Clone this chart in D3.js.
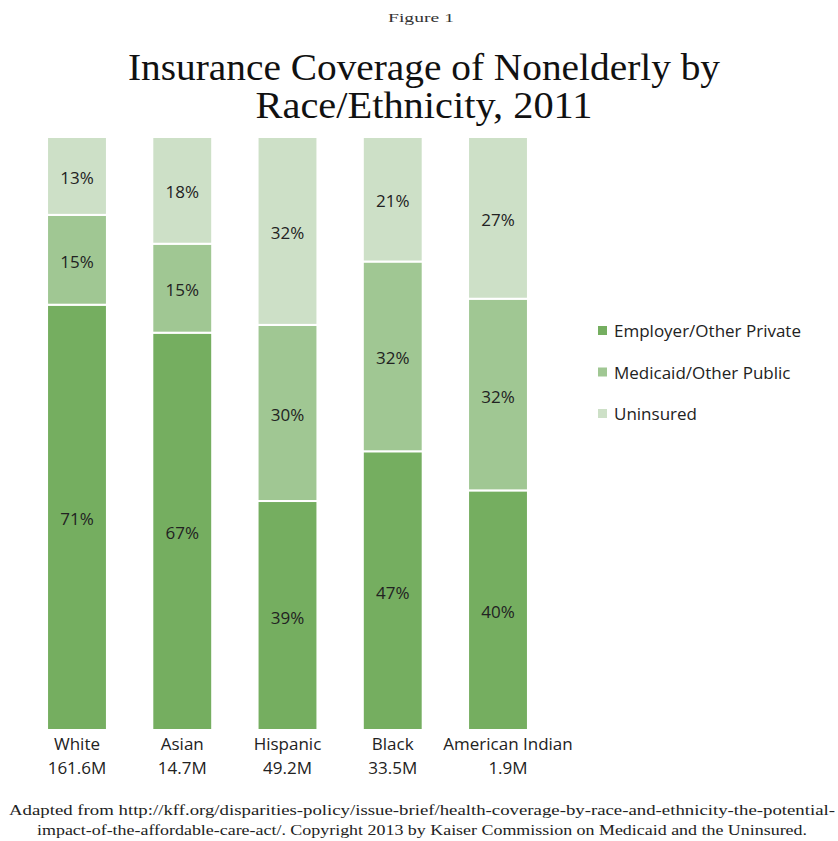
<!DOCTYPE html>
<html>
<head>
<meta charset="utf-8">
<script src="https://cdn.jsdelivr.net/npm/d3@7"></script>
<style>
  body { margin: 0; background: #fff; }
</style>
</head>
<body>
<div id="container"></div>
<script>
const width = 838,
  height = 841;

// data
const groups = ["White", "Asian", "Hispanic", "Black", "American Indian"];
const populations = ["161.6M", "14.7M", "49.2M", "33.5M", "1.9M"];
const keys = ["Employer/Other Private", "Medicaid/Other Public", "Uninsured"];
const privateShare = [71, 67, 39, 47, 40];
const publicShare = [15, 15, 30, 32, 32];
const uninsuredShare = [13, 18, 32, 21, 27];
const colors = ["#75ae60", "#a0c793", "#cde0c7"];

const footer = [
  "Adapted from http://kff.org/disparities-policy/issue-brief/health-coverage-by-race-and-ethnicity-the-potential-",
  "impact-of-the-affordable-care-act/. Copyright 2013 by Kaiser Commission on Medicaid and the Uninsured."
];

const rows = groups.map((g, i) => ({
  group: g,
  pop: populations[i],
  [keys[0]]: privateShare[i],
  [keys[1]]: publicShare[i],
  [keys[2]]: uninsuredShare[i]
}));

// percent stacked (values don't always add to exactly 100)
const series = d3.stack().keys(keys).offset(d3.stackOffsetExpand)(rows);

const xScale = d3.scaleBand()
  .domain(groups)
  .range([26, 549])
  .paddingInner(0.431)
  .paddingOuter(0.2);

const yScale = d3.scaleLinear()
  .domain([0, 1])
  .range([730, 137]);

const colorScale = d3.scaleOrdinal()
  .domain(keys)
  .range(colors);

const svg = d3.select("#container")
  .append("svg")
  .attr("width", width)
  .attr("height", height);

const serif = "'Liberation Serif', 'DejaVu Serif', serif";
const sans = "'Open Sans', 'Noto Sans', sans-serif";

// titles
svg.append("text")
  .attr("x", 421).attr("y", 22)
  .attr("text-anchor", "middle")
  .attr("font-family", serif)
  .attr("font-size", 13)
  .attr("fill", "#333")
  .attr("textLength", 66)
  .attr("lengthAdjust", "spacingAndGlyphs")
  .text("Figure 1");

[["Insurance Coverage of Nonelderly by", 80, 592], ["Race/Ethnicity, 2011", 118, 337]].forEach(([t, y, w]) => {
  svg.append("text")
    .attr("x", 424).attr("y", y)
    .attr("text-anchor", "middle")
    .attr("font-family", serif)
    .attr("font-size", 37)
    .attr("fill", "#111")
    .attr("textLength", w)
    .attr("lengthAdjust", "spacingAndGlyphs")
    .text(t);
});

// bars
const layer = svg.selectAll("g.layer")
  .data(series)
  .join("g")
  .attr("class", "layer")
  .attr("fill", d => colorScale(d.key));

layer.selectAll("rect")
  .data(d => d)
  .join("rect")
  .attr("x", d => xScale(d.data.group))
  .attr("y", d => yScale(d[1]))
  .attr("width", xScale.bandwidth())
  .attr("height", d => yScale(d[0]) - yScale(d[1]))
  .attr("stroke", "#fff")
  .attr("stroke-width", 2);

layer.selectAll("text")
  .data(d => d.map(v => ({ v, key: d.key })))
  .join("text")
  .attr("x", d => xScale(d.v.data.group) + xScale.bandwidth() / 2)
  .attr("y", d => (yScale(d.v[0]) + yScale(d.v[1])) / 2 + 8)
  .attr("text-anchor", "middle")
  .attr("font-family", sans)
  .attr("font-size", 17)
  .attr("fill", "#222")
  .text(d => d.v.data[d.key] + "%");

// category labels
const xAxis = svg.append("g");
groups.forEach((g, i) => {
  const cx = xScale(g) + xScale.bandwidth() / 2 + (i === 4 ? 10 : 0);
  xAxis.append("text")
    .attr("x", cx).attr("y", 750)
    .attr("text-anchor", "middle")
    .attr("font-family", sans)
    .attr("font-size", 17)
    .attr("fill", "#222")
    .text(g);
  xAxis.append("text")
    .attr("x", cx).attr("y", 774)
    .attr("text-anchor", "middle")
    .attr("font-family", sans)
    .attr("font-size", 17)
    .attr("fill", "#222")
    .text(populations[i]);
});

// legend
const legend = svg.selectAll("g.legend")
  .data(keys)
  .join("g")
  .attr("class", "legend")
  .attr("transform", (d, i) => `translate(598,${331 + i * 41.5})`);

legend.append("rect")
  .attr("x", 0).attr("y", -5)
  .attr("width", 9).attr("height", 9)
  .attr("fill", d => colorScale(d));

legend.append("text")
  .attr("x", 16).attr("y", 6)
  .attr("font-family", sans)
  .attr("font-size", 17)
  .attr("fill", "#222")
  .text(d => d);

// source note
footer.forEach((t, i) => {
  svg.append("text")
    .attr("x", 422).attr("y", 815 + i * 20)
    .attr("text-anchor", "middle")
    .attr("font-family", serif)
    .attr("font-size", 14)
    .attr("fill", "#222")
    .attr("textLength", i === 0 ? 826 : 770)
    .attr("lengthAdjust", "spacingAndGlyphs")
    .text(t);
});
</script>
</body>
</html>
